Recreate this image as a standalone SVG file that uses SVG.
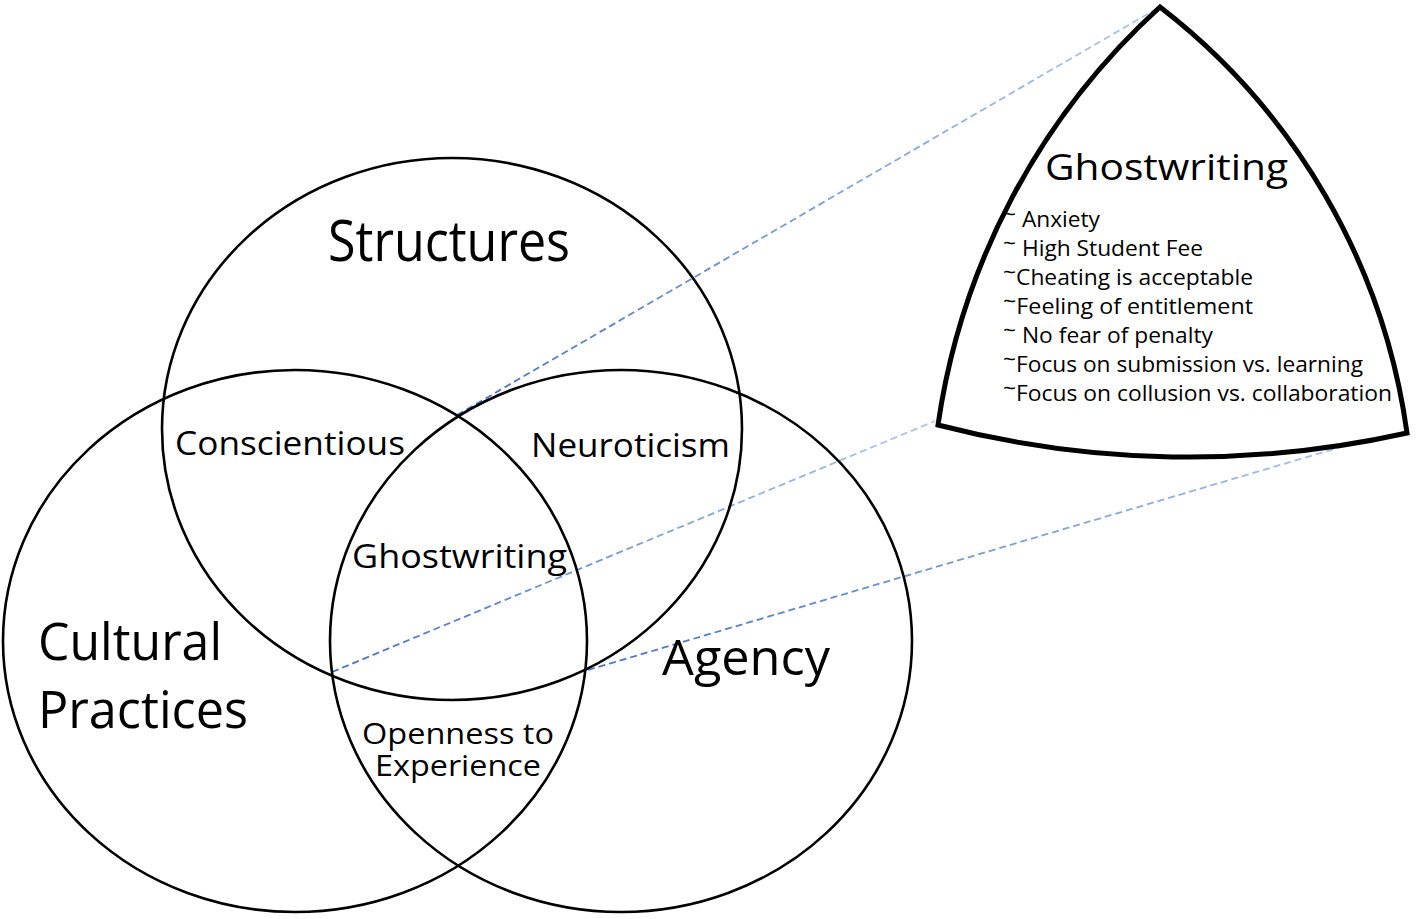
<svg xmlns="http://www.w3.org/2000/svg" width="1418" height="919" viewBox="0 0 1418 919">
  <defs>
    <style>
      .circ { fill: none; stroke: #000; stroke-width: 2.6; }
      .tri { fill: #fff; stroke: #000; stroke-width: 5; stroke-linejoin: miter; }
      .lbl { font-family: "Open Sans", "Noto Sans", sans-serif; fill: #000; }
      .dash { fill: none; stroke-width: 1.8; stroke-dasharray: 7 4; }
    </style>
    <linearGradient id="g1" gradientUnits="userSpaceOnUse" x1="457" y1="415" x2="1158" y2="8">
      <stop offset="0" stop-color="#4472C4"/>
      <stop offset="1" stop-color="#B4C7E7"/>
    </linearGradient>
    <linearGradient id="g2" gradientUnits="userSpaceOnUse" x1="332" y1="672" x2="935" y2="421">
      <stop offset="0" stop-color="#4472C4"/>
      <stop offset="1" stop-color="#B4C7E7"/>
    </linearGradient>
    <linearGradient id="g3" gradientUnits="userSpaceOnUse" x1="588" y1="670" x2="1405" y2="428">
      <stop offset="0" stop-color="#4472C4"/>
      <stop offset="1" stop-color="#B4C7E7"/>
    </linearGradient>
  </defs>
  <rect width="1418" height="919" fill="#fff"/>

  <g id="connectors">
    <line class="dash" x1="457" y1="415" x2="1158" y2="8" stroke="url(#g1)"/>
    <line class="dash" x1="332" y1="672" x2="935" y2="421" stroke="url(#g2)"/>
    <line class="dash" x1="588" y1="670" x2="1405" y2="428" stroke="url(#g3)"/>
  </g>

  <g id="structures">
    <ellipse class="circ" cx="452" cy="429" rx="290" ry="271"/>
    <text class="lbl" x="328" y="261" font-size="56" textLength="242" lengthAdjust="spacingAndGlyphs">Structures</text>
  </g>
  <g id="cultural-practices">
    <ellipse class="circ" cx="295" cy="641" rx="292" ry="271"/>
    <text class="lbl" x="38" y="660" font-size="51" textLength="184" lengthAdjust="spacingAndGlyphs">Cultural</text>
    <text class="lbl" x="38" y="728" font-size="51" textLength="210" lengthAdjust="spacingAndGlyphs">Practices</text>
  </g>
  <g id="agency">
    <ellipse class="circ" cx="621" cy="641" rx="291" ry="271"/>
    <text class="lbl" x="662" y="675" font-size="49" textLength="168" lengthAdjust="spacingAndGlyphs">Agency</text>
  </g>
  <g id="conscientious">
    <text class="lbl" x="175" y="455" font-size="32" textLength="230" lengthAdjust="spacingAndGlyphs">Conscientious</text>
  </g>
  <g id="neuroticism">
    <text class="lbl" x="531" y="457" font-size="33" textLength="199" lengthAdjust="spacingAndGlyphs">Neuroticism</text>
  </g>
  <g id="ghostwriting-center">
    <text class="lbl" x="352" y="568" font-size="32" textLength="215" lengthAdjust="spacingAndGlyphs">Ghostwriting</text>
  </g>
  <g id="openness">
    <text class="lbl" x="362" y="744" font-size="29" textLength="192" lengthAdjust="spacingAndGlyphs">Openness to</text>
    <text class="lbl" x="375" y="776" font-size="29" textLength="166" lengthAdjust="spacingAndGlyphs">Experience</text>
  </g>

  <g id="ghostwriting-detail">
    <path class="tri" d="M938,425 A700,700 0 0 1 1160,7 A650,650 0 0 1 1407,433 A1000,1000 0 0 1 938,425 Z"/>
    <text class="lbl" x="1045" y="180" font-size="36" textLength="243" lengthAdjust="spacingAndGlyphs">Ghostwriting</text>
    <text class="lbl" x="1003" y="227" font-size="22" textLength="97" lengthAdjust="spacingAndGlyphs"><tspan dy="-5">~</tspan><tspan dy="5"> Anxiety</tspan></text>
    <text class="lbl" x="1003" y="256" font-size="22" textLength="200" lengthAdjust="spacingAndGlyphs"><tspan dy="-5">~</tspan><tspan dy="5"> High Student Fee</tspan></text>
    <text class="lbl" x="1003" y="285" font-size="22" textLength="250" lengthAdjust="spacingAndGlyphs"><tspan dy="-5">~</tspan><tspan dy="5">Cheating is acceptable</tspan></text>
    <text class="lbl" x="1003" y="314" font-size="22" textLength="250" lengthAdjust="spacingAndGlyphs"><tspan dy="-5">~</tspan><tspan dy="5">Feeling of entitlement</tspan></text>
    <text class="lbl" x="1003" y="343" font-size="22" textLength="210" lengthAdjust="spacingAndGlyphs"><tspan dy="-5">~</tspan><tspan dy="5"> No fear of penalty</tspan></text>
    <text class="lbl" x="1003" y="372" font-size="22" textLength="360" lengthAdjust="spacingAndGlyphs"><tspan dy="-5">~</tspan><tspan dy="5">Focus on submission vs. learning</tspan></text>
    <text class="lbl" x="1003" y="401" font-size="22" textLength="389" lengthAdjust="spacingAndGlyphs"><tspan dy="-5">~</tspan><tspan dy="5">Focus on collusion vs. collaboration</tspan></text>
  </g>
</svg>
